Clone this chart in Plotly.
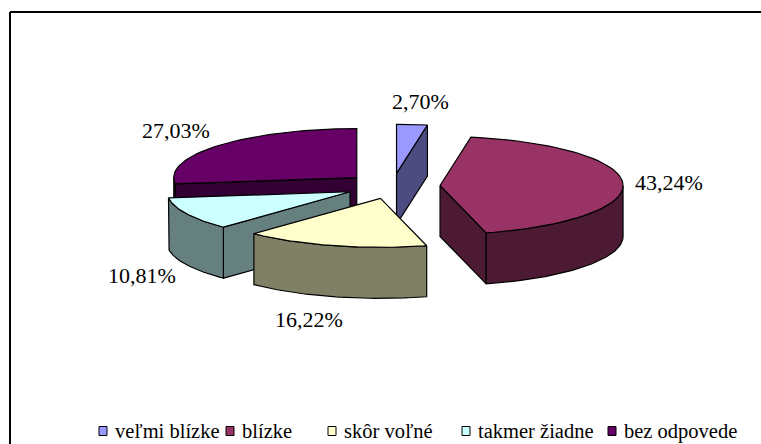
import numpy as np
import plotly.graph_objects as go

# ---- data ----
categories = ["veľmi blízke", "blízke", "skôr voľné", "takmer žiadne", "bez odpovede"]
percent = [2.70, 43.24, 16.22, 10.81, 27.03]

# ---- style ----
top_colors = ["#9999FF", "#993366", "#FFFFCC", "#CCFFFF", "#660066"]
side_colors = ["#4C4C80", "#4D1A33", "#808066", "#668080", "#330033"]

W, H = 761, 444
CX, CY = 392.5, 186.0      # pie centre (px)
RX, RY = 183.0, 49.0       # ellipse radii (px)
DEPTH = 51.0               # thickness (px)
EXPLODE = 0.26             # explosion fraction
LABEL_GAP = 10
LABEL_W, LABEL_H = 72, 26
FONT = "Liberation Serif, DejaVu Serif, serif"
legend_x = [99, 226, 328, 462, 608]
legend_y = 431


def arc_pt(apex, th):
    t = np.radians(th)
    return apex[0] + RX * np.sin(t), apex[1] - RY * np.cos(t)


def arc(apex, a, b, n=60):
    ths = np.linspace(a, b, n)
    xs = apex[0] + RX * np.sin(np.radians(ths))
    ys = apex[1] - RY * np.cos(np.radians(ths))
    return list(xs), list(ys)


total = sum(percent)
cum = np.concatenate([[0], np.cumsum(percent)]) / total * 360.0

slices = []
for i, v in enumerate(percent):
    a, b = cum[i], cum[i + 1]
    m = (a + b) / 2
    mr = np.radians(m)
    apex = (CX + EXPLODE * RX * np.sin(mr), CY - EXPLODE * RY * np.cos(mr))
    slices.append(dict(i=i, a=a, b=b, m=m, apex=apex))

fig = go.Figure()


def poly(xs, ys, color):
    fig.add_trace(go.Scatter(
        x=list(xs) + [xs[0]], y=list(ys) + [ys[0]], mode="lines",
        fill="toself", fillcolor=color,
        line=dict(color="black", width=1.2), hoverinfo="skip", showlegend=False))


for s in sorted(slices, key=lambda d: d["apex"][1]):
    i, a, b, apex = s["i"], s["a"], s["b"], s["apex"]
    sc = side_colors[i]
    # radial wall at start angle
    if np.sin(np.radians(a)) < -1e-6:
        px, py = arc_pt(apex, a)
        poly([apex[0], px, px, apex[0]], [apex[1], py, py + DEPTH, apex[1] + DEPTH], sc)
    # radial wall at end angle
    if np.sin(np.radians(b)) > 1e-6:
        px, py = arc_pt(apex, b)
        poly([apex[0], px, px, apex[0]], [apex[1], py, py + DEPTH, apex[1] + DEPTH], sc)
    # outer (front) wall
    lo, hi = max(a, 90.0), min(b, 270.0)
    if hi > lo:
        xs, ys = arc(apex, lo, hi)
        poly(xs + xs[::-1], ys + [y + DEPTH for y in ys[::-1]], sc)
    # top face
    xs, ys = arc(apex, a, b)
    poly([apex[0]] + xs, [apex[1]] + ys, top_colors[i])

annotations = []
for s in slices:
    i, m, apex = s["i"], s["m"], s["apex"]
    mr = np.radians(m)
    px, py = arc_pt(apex, m)
    if np.cos(mr) < 0:
        py += DEPTH
    text = f"{percent[i]:.2f}".replace(".", ",") + "%"
    sx, cy_ = np.sin(mr), np.cos(mr)
    lx = px + sx * LABEL_GAP + (LABEL_W / 2) * np.clip(sx * 2.5, -1, 1)
    ly = py - cy_ * (LABEL_H / 2 + LABEL_GAP)
    annotations.append(dict(x=lx, y=ly, xref="x", yref="y", text=text, showarrow=False,
                            xanchor="center", yanchor="middle",
                            font=dict(family=FONT, size=22, color="black")))

shapes = [
    dict(type="line", xref="x", yref="y", x0=10, y0=12, x1=W + 5, y1=12,
         line=dict(color="black", width=2)),
    dict(type="line", xref="x", yref="y", x0=10, y0=12, x1=10, y1=H + 5,
         line=dict(color="black", width=2)),
]
for i, name in enumerate(categories):
    x0 = legend_x[i]
    shapes.append(dict(type="rect", xref="x", yref="y", x0=x0, x1=x0 + 8,
                       y0=legend_y - 4.5, y1=legend_y + 4.5,
                       fillcolor=top_colors[i], line=dict(color="black", width=1)))
    annotations.append(dict(x=x0 + 14, y=legend_y, xref="x", yref="y", text=name,
                            showarrow=False, xanchor="left", yanchor="middle",
                            font=dict(family=FONT, size=20.5, color="black")))

fig.update_layout(
    width=W, height=H, margin=dict(l=0, r=0, t=0, b=0),
    paper_bgcolor="white", plot_bgcolor="white",
    font=dict(family=FONT),
    xaxis=dict(range=[0, W], visible=False, fixedrange=True),
    yaxis=dict(range=[H, 0], visible=False, fixedrange=True),
    annotations=annotations, shapes=shapes, showlegend=False,
)

fig.write_html("out.html", config={"displayModeBar": False},
               post_script="document.body.style.margin='0';document.body.style.overflow='hidden';")
